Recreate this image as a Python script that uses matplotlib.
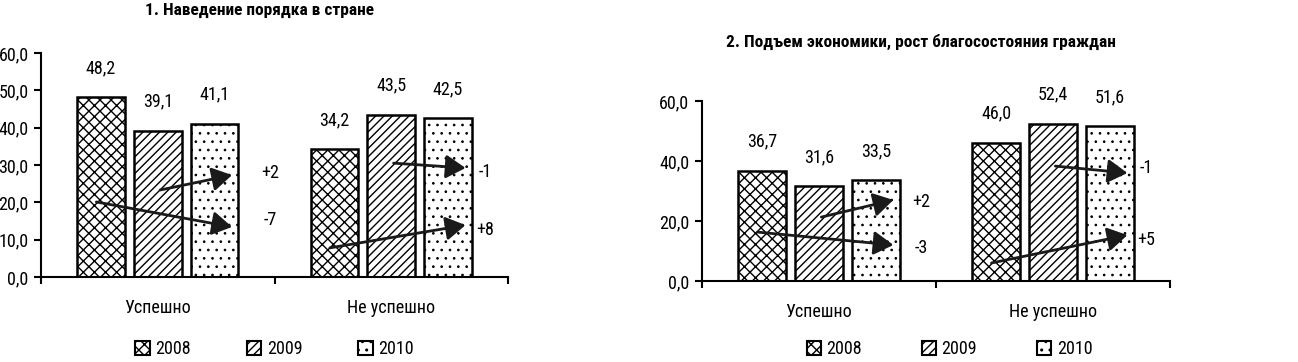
import matplotlib
matplotlib.use("Agg")
import matplotlib.pyplot as plt
from matplotlib import font_manager
from matplotlib.patches import Patch
import numpy as np

available = {f.name for f in font_manager.fontManager.ttflist}
narrow = [f for f in ["Roboto Condensed", "Arial Narrow", "Liberation Sans Narrow",
                      "PT Sans Narrow", "Fira Sans Condensed"] if f in available]
plt.rcParams["font.family"] = narrow[:1] + ["DejaVu Sans"]

categories = ["Успешно", "Не успешно"]
years = ["2008", "2009", "2010"]
hatches = ["xxx", "////", ".."]
hatch_lw = [1.0, 1.0, 0.7]

order_2008 = [48.2, 34.2]
order_2009 = [39.1, 43.5]
order_2010 = [41.1, 42.5]

econ_2008 = [36.7, 46.0]
econ_2009 = [31.6, 52.4]
econ_2010 = [33.5, 51.6]

# change arrows: (category index, from-year index, text, y start, y end, label y)
order_changes = [
    (0, 0, "-7", 20.1, 13.4, 15.3),
    (0, 1, "+2", 23.3, 27.3, 27.8),
    (1, 1, "-1", 30.5, 29.2, 28.0),
    (1, 0, "+8", 7.8, 13.9, 12.6),
]
econ_changes = [
    (0, 0, "-3", 16.3, 12.0, 11.0),
    (0, 1, "+2", 21.3, 27.0, 26.3),
    (1, 1, "-1", 38.3, 36.0, 37.6),
    (1, 0, "+5", 6.0, 15.3, 13.7),
]


def fmt(v):
    return f"{v:.1f}".replace(".", ",")


def draw_panel(ax, series, changes, yticks, label_dx):
    x = np.arange(len(categories))
    width = 0.205
    step = 0.243
    for i, vals in enumerate(series):
        pos = x + (i - 1) * step
        with plt.rc_context({"hatch.linewidth": hatch_lw[i]}):
            ax.bar(pos, vals, width, color="white", edgecolor="black",
                   linewidth=1.8, hatch=hatches[i], zorder=2)
        for p, v in zip(pos, vals):
            ax.annotate(fmt(v), (p, v), xytext=(0, 21), textcoords="offset points",
                        ha="center", va="center", fontsize=13)

    for cat, start_year, text, y0, y1, ly in changes:
        x0 = cat + (start_year - 1) * step - (0.02 if start_year == 0 else -0.01)
        x1 = cat + step + 0.075
        ax.annotate("", xy=(x1, y1), xytext=(x0, y0),
                    arrowprops=dict(arrowstyle="-|>,head_length=0.5,head_width=0.3",
                                    mutation_scale=24, lw=2, color="#1a1a1a",
                                    shrinkA=0, shrinkB=0), zorder=4)
        ax.text(cat + label_dx[cat], ly, text, fontsize=13, ha="center", va="center")

    ax.set_xlim(-0.5, 1.5)
    ax.set_ylim(0, 60)
    ax.set_yticks(yticks)
    ax.set_yticklabels([fmt(t) for t in yticks], fontsize=13)
    ax.set_xticks(x)
    ax.set_xticklabels(categories, fontsize=13)
    ax.set_xticks([-0.5, 0.5, 1.5], minor=True)
    ax.tick_params(axis="x", which="major", length=0, pad=16)
    ax.tick_params(axis="x", which="minor", length=5, width=1.5, direction="out")
    ax.tick_params(axis="y", length=5, width=1.5, direction="out", pad=4)
    for side in ["top", "right"]:
        ax.spines[side].set_visible(False)
    ax.spines["left"].set_linewidth(1.5)
    ax.spines["bottom"].set_linewidth(1.5)


fig = plt.figure(figsize=(12.98, 3.62), dpi=100)
ax1 = fig.add_axes([0.0316, 0.2348, 0.3598, 0.6188])
ax2 = fig.add_axes([0.5408, 0.2238, 0.3606, 0.4972])

draw_panel(ax1, [order_2008, order_2009, order_2010], order_changes,
           np.arange(0, 61, 10), [0.482, 0.402])
draw_panel(ax2, [econ_2008, econ_2009, econ_2010], econ_changes,
           np.arange(0, 61, 20), [0.437, 0.398])

fig.text(0.2003, 0.972, "1. Наведение порядка в стране", ha="center", va="center",
         fontsize=12.5, fontweight="bold")
fig.text(0.7096, 0.884, "2. Подъем экономики, рост благосостояния граждан", ha="center",
         va="center", fontsize=12.5, fontweight="bold")

handles = []
for h, hl in zip(hatches, hatch_lw):
    with plt.rc_context({"hatch.linewidth": hl}):
        handles.append(Patch(facecolor="white", edgecolor="black", hatch=h, linewidth=1.5))
for cx, cs in [(0.2115, 3.1), (0.7315, 3.3)]:
    fig.legend(handles, years, loc="center", bbox_to_anchor=(cx, 0.036), ncol=3,
               frameon=False, fontsize=13, handlelength=0.8, handleheight=0.8,
               handletextpad=0.3, columnspacing=cs)

fig.savefig("out.png", dpi=100)
